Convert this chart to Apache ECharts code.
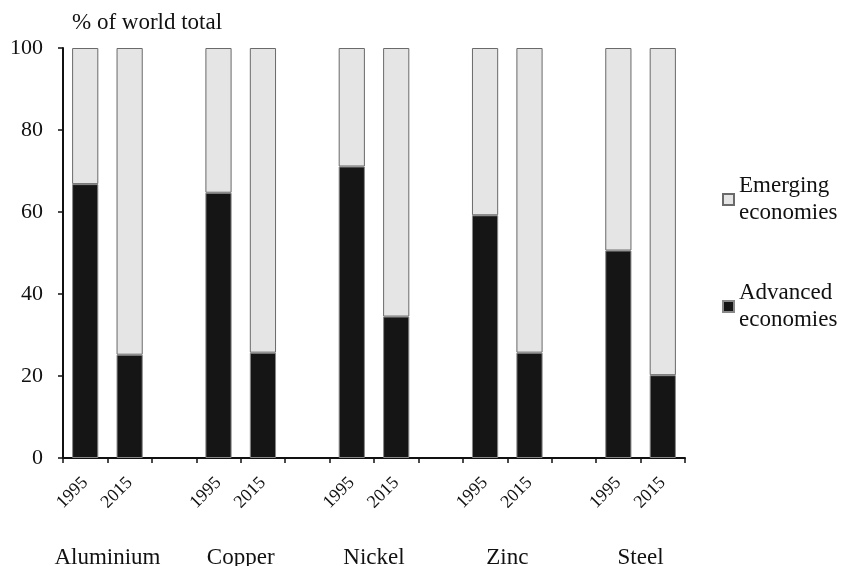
<!DOCTYPE html>
<html>
<head>
<meta charset="utf-8">
<script src="https://cdn.jsdelivr.net/npm/echarts@6/dist/echarts.min.js"></script>
<style>html,body{margin:0;padding:0;background:#fff}#c{width:841px;height:566px}</style>
</head>
<body>
<div id="c"></div>
<script>
var metals = ['Aluminium', 'Copper', 'Nickel', 'Zinc', 'Steel'];
var years = ['1995', '2015'];
var advanced = [66.8, 25.2, null, 64.7, 25.7, null, 71.1, 34.5, null, 59.2, 25.7, null, 50.6, 20.2];
var emerging = [33.2, 74.8, null, 35.3, 74.3, null, 28.9, 65.5, null, 40.8, 74.3, null, 49.4, 79.8];
var yTicks = [0, 20, 40, 60, 80, 100];
var seriesNames = ['Advanced economies', 'Emerging economies'];

// category axis: two years per metal, blank spacer between groups
var categories = [];
metals.forEach(function (m, i) {
  years.forEach(function (y) { categories.push(y); });
  if (i < metals.length - 1) categories.push('');
});
// group label axis on category boundaries (n+1 positions)
var groupLabels = [''];
metals.forEach(function (m, i) {
  groupLabels.push(m);
  if (i < metals.length - 1) { groupLabels.push(''); groupLabels.push(''); }
});
groupLabels.push('');

var font = '"Liberation Serif", "DejaVu Serif", serif';
var ink = '#111';

var chart = echarts.init(document.getElementById('c'));
chart.setOption({
  animation: false,
  title: {
    text: '% of world total',
    left: 67, top: 6,
    textStyle: { fontFamily: font, fontSize: 23, fontWeight: 'normal', color: ink }
  },
  legend: {
    orient: 'vertical',
    left: 717, top: 154,
    itemWidth: 11, itemHeight: 11, itemGap: 26,
    icon: 'rect',
    data: [seriesNames[1], seriesNames[0]],
    formatter: function (n) { return n.replace(' ', '\n'); },
    textStyle: { fontFamily: font, fontSize: 23, color: ink, lineHeight: 27, padding: [27, 0, 0, 0] }
  },
  grid: { left: 63, right: 156, top: 48, bottom: 108, containLabel: false, outerBoundsMode: 'none' },
  xAxis: [{
    type: 'category',
    position: 'bottom',
    data: categories,
    axisLine: { lineStyle: { color: ink, width: 2 } },
    axisTick: { show: true, length: 5, interval: 0, lineStyle: { color: ink, width: 1.5 } },
    axisLabel: { interval: 0, rotate: 45, margin: 22, fontFamily: font, fontSize: 18, color: ink }
  }, {
    type: 'category',
    position: 'bottom',
    boundaryGap: false,
    data: groupLabels,
    axisLine: { show: false },
    axisTick: { show: false },
    axisLabel: { interval: 0, margin: 88, fontFamily: font, fontSize: 23, color: ink }
  }],
  yAxis: {
    type: 'value',
    min: yTicks[0], max: yTicks[yTicks.length - 1], interval: 20,
    splitLine: { show: false },
    axisLine: { show: true, lineStyle: { color: ink, width: 2 } },
    axisTick: { show: true, length: 5, lineStyle: { color: ink, width: 1.5 } },
    axisLabel: { margin: 20, fontFamily: font, fontSize: 22, color: ink }
  },
  series: [{
    name: seriesNames[0],
    type: 'bar',
    stack: 'total',
    barWidth: '59%',
    data: advanced,
    itemStyle: { color: '#151515', borderColor: '#888', borderWidth: 1 }
  }, {
    name: seriesNames[1],
    type: 'bar',
    stack: 'total',
    barWidth: '59%',
    data: emerging,
    itemStyle: { color: '#e5e5e5', borderColor: '#6a6a6a', borderWidth: 1 }
  }]
});
</script>
</body>
</html>
